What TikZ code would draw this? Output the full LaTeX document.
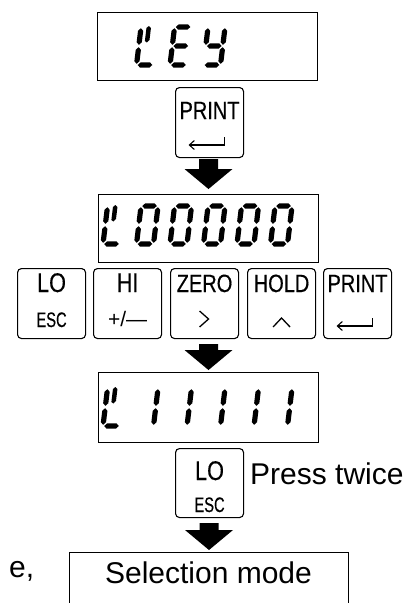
\documentclass[tikz,border=0pt]{standalone}
\usepackage{fontspec}
\setmainfont{Liberation Sans}
\newfontfamily\keyfont[FakeStretch=0.8,FakeBold=0.4]{Liberation Sans}
\newfontfamily\narrowfont[FakeStretch=0.7,FakeBold=0.4]{Liberation Sans}
\usetikzlibrary{calc,arrows.meta}

\def\sh{2.6}
\newcommand\Hs[3]{\fill ({#1},{#3}) -- ({#1+\sh},{#3+\sh}) -- ({#2-\sh},{#3+\sh}) -- ({#2},{#3}) -- ({#2-\sh},{#3-\sh}) -- ({#1+\sh},{#3-\sh}) -- cycle;}
\newcommand\Vs[3]{\fill ({#1},{#2}) -- ({#1+\sh},{#2+\sh}) -- ({#1+\sh},{#3-\sh}) -- ({#1},{#3}) -- ({#1-\sh},{#3-\sh}) -- ({#1-\sh},{#2+\sh}) -- cycle;}
\newcommand\sgA{\Hs{1.2}{15.8}{38}}
\newcommand\sgG{\Hs{1.2}{15.8}{19}}
\newcommand\sgD{\Hs{1.2}{15.8}{0}}
\newcommand\sgF{\Vs{0}{20.2}{36.8}}
\newcommand\sgE{\Vs{0}{1.2}{17.8}}
\newcommand\sgB{\Vs{17}{20.2}{36.8}}
\newcommand\sgC{\Vs{17}{1.2}{17.8}}
\newcommand\glyph[3]{\begin{scope}[shift={(#1,#2)},x=1pt,y=1pt,xslant=0.12]#3\end{scope}}
\newcommand\gzero{\sgA\sgB\sgC\sgD\sgE\sgF}
\newcommand\gone{\sgB\sgC}
\newcommand\gE{\sgA\sgG\sgD\sgE\sgF}
\newcommand\gY{\sgF\sgB\sgG\sgC\sgD}
\newcommand\gk{\sgF\sgE\sgD\fill (5.5,24) -- (7.7,22.5) -- (10,25) -- (10,37) -- (7.7,39) -- (5.5,37) -- cycle;}

\newcommand\blockarrow[2]{%
 \fill let \p1=(#1), \p2=(#2) in
 (\x2-9.5pt,\y1) -- (\x2+9.5pt,\y1) -- (\x2+9.5pt,\y2+20pt) -- (\x2+24pt,\y2+20pt)
 -- (\x2,\y2) -- (\x2-24pt,\y2+20pt) -- (\x2-9.5pt,\y2+20pt) -- cycle;}

\tikzset{
 disp/.style={draw=black, line width=1pt, minimum width=220pt, minimum height=68pt, inner sep=0pt, anchor=north west},
 keybox/.style={draw=black, line width=1.1pt, rounded corners=4pt, minimum width=68pt, minimum height=70pt, inner sep=0pt, anchor=north west},
 lbig/.style={font=\keyfont\fontsize{27}{27}\selectfont, inner sep=0pt, anchor=base},
 lmid/.style={font=\keyfont\fontsize{25}{25}\selectfont, inner sep=0pt, anchor=base},
 lsmall/.style={font=\narrowfont\fontsize{21}{21}\selectfont, inner sep=0pt, anchor=base},
 lsym/.style={font=\fontsize{21}{21}\selectfont, inner sep=0pt, anchor=base},
 bigtext/.style={font=\fontsize{30}{30}\selectfont, inner sep=0pt},
 symline/.style={line width=1.3pt},
 retarrow/.style={line width=1.1pt, -{Straight Barb[length=5pt,width=9pt]}},
}

\begin{document}
\begin{tikzpicture}[x=1pt,y=-1pt]
\useasboundingbox (0,0) rectangle (414,603);
\clip (0,0) rectangle (414,603);

% displays
\node[disp] (d1) at (97,12) {};
\node[disp] (d2) at (98,194) {};
\node[disp, minimum height=70pt] (d3) at (98,372) {};

% top PRINT key
\node[keybox] (pk) at (175,87) {};
\node[lmid] (pkt) at ($(pk.north)+(0,32)$) {PRINT};
\draw[retarrow] ($(pk.north)+(15,50)$) -- ++(0,8) -- ++(-36,0);

% key row
\node[keybox] (k1) at (17,268) {};
\node[keybox] (k2) at (93,268) {};
\node[keybox] (k3) at (170,268) {};
\node[keybox] (k4) at (247,268) {};
\node[keybox] (k5) at (323,268) {};
\node[lbig] (k1t) at ($(k1.north)+(0,24)$) {LO};
\node[lsmall] (k1b) at ($(k1.north)+(0,59)$) {ESC};
\node[lbig] (k2t) at ($(k2.north)+(0,24)$) {HI};
\node[lsym] (k2b) at ($(k2.north)+(0,58)$) {+/—};
\node[lmid] (k3t) at ($(k3.north)+(0,24)$) {ZERO};
\draw[symline] ($(k3.north)+(-5,43)$) -- ++(9,8) -- ++(-9,8);
\node[lmid] (k4t) at ($(k4.north)+(0,24)$) {HOLD};
\draw[symline] ($(k4.north)+(-8.5,59)$) -- ++(8.5,-9) -- ++(8.5,9);
\node[lmid] (k5t) at ($(k5.north)+(0,24)$) {PRINT};
\draw[retarrow] ($(k5.north)+(15,50)$) -- ++(0,8) -- ++(-36,0);

% LO key (press twice)
\node[keybox, minimum height=69pt] (lk) at (175,448) {};
\node[lbig] (lkt) at ($(lk.north)+(0,32)$) {LO};
\node[lsmall] (lkb) at ($(lk.north)+(0,64)$) {ESC};
\node[bigtext, anchor=base west] (press) at (250,484) {Press twice};

% selection mode
\node[draw=black, line width=1pt, minimum width=279pt, minimum height=80pt, anchor=north west, inner sep=0pt] (sel) at (69,552) {};
\node[bigtext, anchor=base] (seltxt) at (208.5,583) {Selection mode};
\node[bigtext, anchor=base west] (cut) at (9,577) {e,};

% block arrows
\blockarrow{[yshift=-1pt]pk.south}{[yshift=5pt]d2.north}
\blockarrow{[yshift=-5pt]k3.south}{[yshift=2pt]d3.north}
\blockarrow{[yshift=-5pt]lk.south}{[yshift=2pt]sel.north}

% display 1: kEY
\glyph{136.5}{65}{\gk}
\glyph{170}{65}{\gE}
\glyph{203.5}{65}{\gY}
% display 2: k00000
\glyph{103}{244}{\gk}
\glyph{136.5}{244}{\gzero}
\glyph{170}{244}{\gzero}
\glyph{203.5}{244}{\gzero}
\glyph{237}{244}{\gzero}
\glyph{270.5}{244}{\gzero}
% display 3: k11111
\glyph{103}{426}{\gk}
\glyph{136.5}{426}{\gone}
\glyph{170}{426}{\gone}
\glyph{203.5}{426}{\gone}
\glyph{237}{426}{\gone}
\glyph{270.5}{426}{\gone}
\end{tikzpicture}
\end{document}
